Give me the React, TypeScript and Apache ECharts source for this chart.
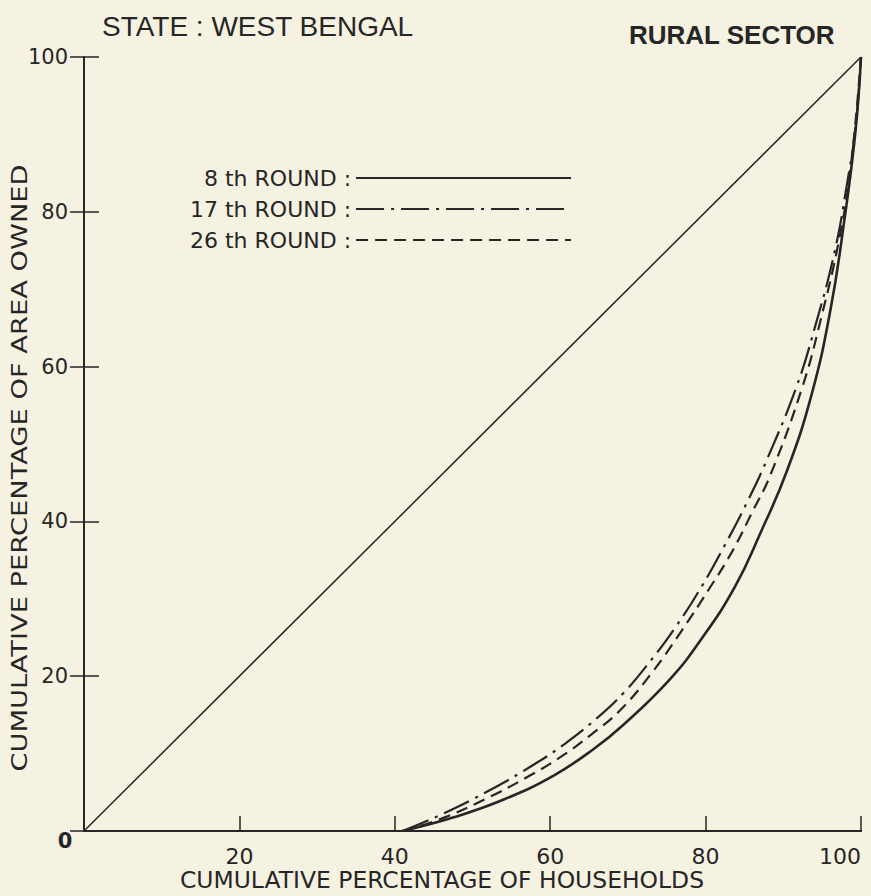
import React, { useEffect, useRef } from "react";
import * as echarts from "echarts";

const titleLeft = "STATE : WEST BENGAL";
const titleRight = "RURAL SECTOR";
const xAxisName = "CUMULATIVE PERCENTAGE OF HOUSEHOLDS";
const yAxisName = "CUMULATIVE PERCENTAGE OF AREA OWNED";

const seriesNames = ["8 th ROUND", "17 th ROUND", "26 th ROUND"];

const diagX = [0, 100];
const diagY = [0, 100];

const r8X = [41, 47.7, 54.1, 60.5, 65.6, 69.5, 75.4, 79.6, 83.8, 87.1, 90.5, 93.7, 96.1, 97.8, 99.3, 100];
const r8Y = [0, 1.8, 4.1, 7.2, 10.6, 13.8, 19.6, 25.0, 31.6, 38.6, 46.6, 56.6, 67.5, 78.5, 90.5, 100];

const r17X = [41, 45.5, 51.9, 57.6, 61.8, 66.5, 69.4, 72.3, 76.1, 79.5, 82.4, 85.4, 87.9, 91.7, 94.1, 96.6, 98.1, 99.3, 100];
const r17Y = [0, 1.9, 5.1, 8.4, 11.2, 15.0, 17.8, 21.2, 26.3, 31.6, 36.8, 42.6, 48.0, 57.4, 65.2, 74.8, 83.0, 91.0, 100];

const r26X = [41, 46, 51.6, 57.1, 61.4, 65.2, 69.0, 73.2, 77.0, 80.4, 83.3, 86.2, 88.3, 92.4, 94.8, 97.2, 98.7, 100];
const r26Y = [0, 1.6, 4.1, 7.0, 9.6, 12.4, 15.6, 20.6, 26.0, 31.2, 35.9, 41.6, 45.9, 57.2, 66.0, 76.5, 86.0, 100];

const zip = (xs: number[], ys: number[]) => xs.map((x, i) => [x, ys[i]]);

const INK = "#262626";
const FONT = "DejaVu Sans";

export default function App() {
  const ref = useRef<HTMLDivElement>(null);
  useEffect(() => {
    if (!ref.current) return;
    const chart = echarts.init(ref.current, undefined, { renderer: "svg" });
    const G = { left: 84, top: 57, width: 777, height: 774 };
    const lbl = (v: number) => (v === 0 ? "" : String(v));
    chart.setOption({
      animation: false,
      backgroundColor: "#f6f2e2",
      grid: { ...G, containLabel: false, outerBoundsMode: "none" },
      title: [
        { text: titleLeft, left: 97, top: 7, textStyle: { fontFamily: "Liberation Sans", fontSize: 28, fontWeight: "normal", color: INK } },
        { text: titleRight, left: 624, top: 17, textStyle: { fontFamily: "Liberation Sans", fontSize: 26, fontWeight: "bold", color: INK } },
      ],
      legend: {
        orient: "vertical",
        left: 190,
        top: 166,
        align: "right",
        padding: 0,
        itemWidth: 215,
        itemHeight: 12,
        itemGap: 7,
        data: seriesNames,
        itemStyle: { opacity: 0 },
        formatter: (name: string) => `${name} :`,
        textStyle: { fontFamily: FONT, fontSize: 22, lineHeight: 24, color: INK },
      },
      xAxis: [
        {
          type: "value",
          min: 0,
          max: 100,
          interval: 20,
          axisLine: { show: true, lineStyle: { color: INK, width: 2 } },
          axisTick: { show: true, inside: true, length: 15, lineStyle: { color: INK, width: 1.5 } },
          axisLabel: { formatter: lbl, margin: 14, alignMaxLabel: "right", fontFamily: FONT, fontSize: 22, color: INK },
          splitLine: { show: false },
        },
        {
          type: "value",
          position: "top",
          min: 0,
          max: 100,
          interval: 20,
          axisLine: { show: true, lineStyle: { color: INK, width: 2 } },
          axisTick: { show: false },
          axisLabel: { show: false },
          splitLine: { show: false },
        },
      ],
      yAxis: [
        {
          type: "value",
          min: 0,
          max: 100,
          interval: 20,
          axisLine: { show: true, lineStyle: { color: INK, width: 2 } },
          axisTick: { show: true, inside: true, length: 15, lineStyle: { color: INK, width: 1.5 } },
          axisLabel: { formatter: lbl, margin: 16, fontFamily: FONT, fontSize: 21, color: INK },
          splitLine: { show: false },
        },
        {
          type: "value",
          position: "right",
          min: 0,
          max: 100,
          interval: 20,
          axisLine: { show: true, lineStyle: { color: INK, width: 2 } },
          axisTick: { show: true, inside: true, length: 14, lineStyle: { color: INK, width: 1.5 } },
          axisLabel: { show: false },
          splitLine: { show: false },
        },
      ],
      graphic: [
        {
          type: "text",
          x: 65,
          y: 841,
          style: { text: "0", font: `bold 21px '${FONT}'`, fill: INK, align: "center", verticalAlign: "middle" },
        },
        {
          type: "text",
          x: 442,
          y: 880,
          scaleX: 1.02,
          style: { text: xAxisName, font: `23px '${FONT}'`, fill: INK, align: "center", verticalAlign: "middle" },
        },
        {
          type: "text",
          x: 20,
          y: 468,
          rotation: Math.PI / 2,
          scaleX: 1.3,
          style: { text: yAxisName, font: `21px '${FONT}'`, fill: INK, align: "center", verticalAlign: "middle" },
        },
      ],
      series: [
        {
          name: "equality",
          type: "line",
          data: zip(diagX, diagY),
          symbol: "none",
          silent: true,
          lineStyle: { color: INK, width: 1.5 },
        },
        {
          name: seriesNames[0],
          type: "line",
          data: zip(r8X, r8Y),
          symbol: "none",
          smooth: 0.45,
          lineStyle: { color: INK, width: 2.6, type: "solid" },
          itemStyle: { color: INK },
        },
        {
          name: seriesNames[1],
          type: "line",
          data: zip(r17X, r17Y),
          symbol: "none",
          smooth: 0.45,
          lineStyle: { color: INK, width: 2.2, type: [28, 7, 3, 7] },
          itemStyle: { color: INK },
        },
        {
          name: seriesNames[2],
          type: "line",
          data: zip(r26X, r26Y),
          symbol: "none",
          smooth: 0.45,
          lineStyle: { color: INK, width: 2.2, type: [12, 7] },
          itemStyle: { color: INK },
        },
      ],
    });
    return () => chart.dispose();
  }, []);
  return (
    <div
      ref={ref}
      style={{ position: "fixed", left: 0, top: 0, width: 871, height: 896 }}
    />
  );
}
